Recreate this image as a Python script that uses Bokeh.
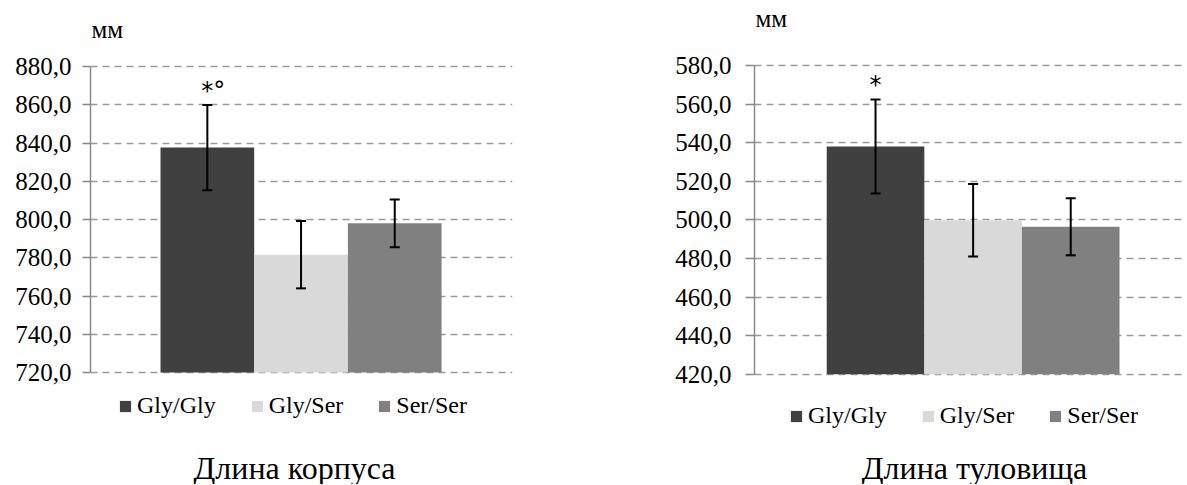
from bokeh.plotting import figure
from bokeh.models import (Range1d, ColumnDataSource, Whisker, TeeHead, Legend, LegendItem,
                          Label, FixedTicker)
from bokeh.layouts import row
from bokeh.core.properties import value
from bokeh.embed import file_html
from bokeh.resources import INLINE

# ---------------- data ----------------
categories = ["Gly/Gly", "Gly/Ser", "Ser/Ser"]
bar_colors = ["#404040", "#d9d9d9", "#808080"]

body_means = [837.6, 781.6, 798.0]
body_errors = [22.3, 17.6, 12.5]
body_marks = ["*°", "", ""]
body_ticks = [720, 740, 760, 780, 800, 820, 840, 860, 880]
body_tick_labels = ["720,0", "740,0", "760,0", "780,0", "800,0", "820,0", "840,0", "860,0", "880,0"]
body_title = "Длина корпуса"

trunk_means = [538.0, 499.8, 496.4]
trunk_errors = [24.4, 18.8, 14.8]
trunk_marks = ["*", "", ""]
trunk_ticks = [420, 440, 460, 480, 500, 520, 540, 560, 580]
trunk_tick_labels = ["420,0", "440,0", "460,0", "480,0", "500,0", "520,0", "540,0", "560,0", "580,0"]
trunk_title = "Длина туловища"

unit_label = "мм"

SERIF = "Liberation Serif"
H = 484  # canvas height (px)


def make_chart(means, errors, marks, ticks, tick_labels, title_text, lay):
    # lay: pixel layout of this panel (canvas-relative)
    fl, fw = lay["frame_left"], lay["frame_w"]
    top_px, bot_px = lay["top_px"], lay["bot_px"]
    ppu = (bot_px - top_px) / (ticks[-1] - ticks[0])
    y_end = ticks[-1] + top_px / ppu
    y_start = y_end - H / ppu
    ppx = lay["bar_w"]
    x_start = -lay["lead"]
    x_end = x_start + fw / ppx

    def X(px):
        return x_start + (px - fl) / ppx

    def Y(py):
        return y_end - py / ppu

    xs = [i + 0.5 for i in range(len(categories))]
    src = ColumnDataSource(dict(
        x=xs, top=means,
        upper=[m + e for m, e in zip(means, errors)],
        lower=[m - e for m, e in zip(means, errors)],
        color=bar_colors, cat=categories, mark=marks,
    ))
    p = figure(frame_width=fw, frame_height=H,
               x_range=Range1d(x_start, x_end),
               y_range=Range1d(y_start, y_end),
               output_backend="svg", toolbar_location=None,
               x_axis_location=None,
               min_border_left=fl, min_border_right=lay["right"],
               min_border_top=0, min_border_bottom=0)
    p.outline_line_color = None
    p.background_fill_color = "white"
    p.border_fill_color = "white"
    p.xgrid.visible = False
    p.ygrid.grid_line_color = "#9a9a9a"
    p.ygrid.grid_line_width = 1.5
    p.ygrid.grid_line_dash = "7 5"
    p.ygrid.ticker = FixedTicker(ticks=ticks)

    yax = p.yaxis[0]
    yax.ticker = FixedTicker(ticks=ticks)
    yax.bounds = (ticks[0], ticks[-1])
    yax.major_label_overrides = {t: lab for t, lab in zip(ticks, tick_labels)}
    yax.axis_line_color = "#888888"
    yax.axis_line_width = 1.5
    yax.major_tick_line_color = "#888888"
    yax.major_tick_line_width = 1.5
    yax.major_tick_out = lay["tick_out"]
    yax.major_tick_in = 0
    yax.minor_tick_line_color = None
    yax.major_label_text_font = SERIF
    yax.major_label_text_font_size = "25px"
    yax.major_label_text_color = "black"
    yax.major_label_standoff = lay["standoff"]

    r = p.vbar(x="x", top="top", bottom=ticks[0], width=1.0, source=src,
               fill_color="color", line_color=None)

    p.add_layout(Whisker(source=src, base="x", upper="upper", lower="lower",
                         line_color="black", line_width=2, level="overlay",
                         upper_head=TeeHead(size=10, line_color="black", line_width=2),
                         lower_head=TeeHead(size=10, line_color="black", line_width=2)))

    p.text(x="x", y="upper", text="mark", source=src, text_align="left",
           x_offset=-6, y_offset=-14, text_baseline="alphabetic",
           text_font=value("DejaVu Sans"), text_font_size="24px", text_color="black")

    items = [LegendItem(label=c, renderers=[r], index=i) for i, c in enumerate(categories)]
    legend = Legend(items=items, orientation="horizontal",
                    location=lay["legend_loc"],
                    border_line_color=None, background_fill_alpha=0,
                    label_text_font=SERIF, label_text_font_size="24px",
                    label_text_color="black", glyph_width=14, glyph_height=14,
                    label_standoff=5, spacing=34, padding=0, margin=0)
    p.add_layout(legend)

    p.add_layout(Label(x=X(lay["unit_x"]), y=Y(lay["unit_y"]),
                       text=unit_label, text_font=SERIF, text_font_size="25px",
                       text_color="black", text_baseline="middle", text_align="left"))
    p.add_layout(Label(x=X(lay["title_x"]), y=Y(lay["title_y"]),
                       text=title_text, text_font=SERIF, text_font_size="32px",
                       text_color="black", text_baseline="alphabetic", text_align="center"))
    return p


body_layout = dict(frame_left=90, frame_w=422, right=88, top_px=66, bot_px=372,
                   bar_w=93.7, lead=0.747, tick_out=8, standoff=11,
                   legend_loc=(28, 65), unit_x=91, unit_y=29, title_x=294, title_y=467)
trunk_layout = dict(frame_left=154, frame_w=432, right=0, top_px=65, bot_px=373.7,
                    bar_w=97.6, lead=0.74, tick_out=9, standoff=14,
                    legend_loc=(35, 55), unit_x=155, unit_y=18, title_x=374, title_y=467)

p1 = make_chart(body_means, body_errors, body_marks, body_ticks, body_tick_labels, body_title,
                body_layout)
p2 = make_chart(trunk_means, trunk_errors, trunk_marks, trunk_ticks, trunk_tick_labels, trunk_title,
                trunk_layout)

layout = row(p1, p2, spacing=0)
open("out.html", "w").write(file_html(layout, INLINE))
